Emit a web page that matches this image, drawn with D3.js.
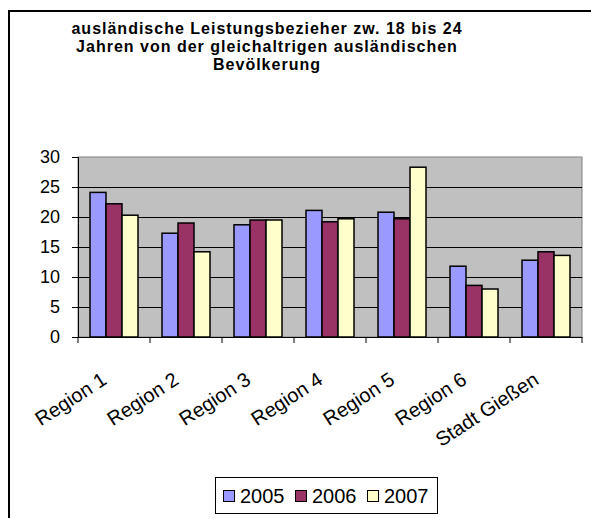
<!DOCTYPE html>
<html lang="de">
<head>
<meta charset="UTF-8">
<title>ausländische Leistungsbezieher</title>
<script src="https://d3js.org/d3.v7.min.js"></script>
<style>
  body { margin: 0; background: #fff; }
  svg text { font-family: "Liberation Sans", Arial, sans-serif; fill: #000; }
</style>
</head>
<body>
<div id="chart"></div>
<script>
// data
const regions = ["Region 1", "Region 2", "Region 3", "Region 4", "Region 5", "Region 6", "Stadt Gießen"];
const years = ["2005", "2006", "2007"];
const v2005 = [24.1, 17.3, 18.7, 21.1, 20.8, 11.8, 12.8];
const v2006 = [22.2, 19.0, 19.5, 19.2, 19.7, 8.6, 14.2];
const v2007 = [20.3, 14.2, 19.5, 19.7, 28.3, 8.0, 13.6];
const yTicks = [0, 5, 10, 15, 20, 25, 30];
const titleLines = ["ausländische Leistungsbezieher zw. 18 bis 24",
                    "Jahren von der gleichaltrigen ausländischen",
                    "Bevölkerung"];
const colors = ["#9999FF", "#993366", "#FFFFCC"];

const series = [v2005, v2006, v2007];
const rows = regions.map((r, i) => ({region: r, values: years.map((y, j) => ({year: y, value: series[j][i], idx: j}))}));

const W = 591, H = 518;
const plot = {left: 78, right: 582, top: 157, bottom: 337};

const svg = d3.select("#chart").append("svg")
  .attr("width", W).attr("height", H);

// outer frame (runs off the right and bottom edges)
svg.append("rect")
  .attr("x", 9).attr("y", 11)
  .attr("width", 600).attr("height", 530)
  .attr("fill", "none").attr("stroke", "#000").attr("stroke-width", 2);

// title
svg.append("text")
  .attr("x", 267).attr("y", 34)
  .attr("text-anchor", "middle")
  .style("font-size", "16px").style("font-weight", "bold")
  .style("letter-spacing", "1px")
  .selectAll("tspan")
  .data(titleLines)
  .enter().append("tspan")
  .attr("x", 267)
  .attr("dy", (d, i) => i === 0 ? 0 : 18)
  .text(d => d);

const x0 = d3.scaleBand().domain(regions).range([plot.left, plot.right]);
const x1 = d3.scaleBand().domain(years).range([0, x0.bandwidth()]).paddingOuter(0.75);
const y = d3.scaleLinear().domain([0, 30]).range([plot.bottom, plot.top]);

// plot area
svg.append("rect")
  .attr("x", plot.left).attr("y", plot.top)
  .attr("width", plot.right - plot.left).attr("height", plot.bottom - plot.top)
  .attr("fill", "#C0C0C0").attr("stroke", "#808080").attr("stroke-width", 1);

// gridlines
svg.append("g")
  .selectAll("line")
  .data(yTicks.filter(d => d > 0 && d < 30))
  .enter().append("line")
  .attr("x1", plot.left).attr("x2", plot.right)
  .attr("y1", d => Math.round(y(d)) + 0.5).attr("y2", d => Math.round(y(d)) + 0.5)
  .attr("stroke", "#000").attr("stroke-width", 1);

// bars
svg.append("g")
  .selectAll("g")
  .data(rows)
  .enter().append("g")
  .attr("transform", d => `translate(${x0(d.region)},0)`)
  .selectAll("rect")
  .data(d => d.values)
  .enter().append("rect")
  .attr("x", d => x1(d.year))
  .attr("y", d => y(d.value))
  .attr("width", x1.bandwidth())
  .attr("height", d => y(0) - y(d.value))
  .attr("fill", d => colors[d.idx])
  .attr("stroke", "#000").attr("stroke-width", 1.5);

// y axis
const yAxis = svg.append("g")
  .attr("transform", `translate(${plot.left},0)`)
  .call(d3.axisLeft(y).tickValues(yTicks).tickSize(6).tickPadding(12));
yAxis.select(".domain").attr("stroke", "#000");
yAxis.selectAll("text").style("font-size", "18px").style("font-family", "Liberation Sans, Arial, sans-serif");

// x axis
const xAxis = svg.append("g")
  .attr("transform", `translate(0,${plot.bottom})`)
  .call(d3.axisBottom(x0).tickSize(0).tickFormat(""));
xAxis.select(".domain").attr("stroke", "#000");
xAxis.selectAll(".tick").remove();
xAxis.selectAll(".sep")
  .data(d3.range(regions.length + 1))
  .enter().append("line")
  .attr("x1", i => plot.left + i * x0.step()).attr("x2", i => plot.left + i * x0.step())
  .attr("y1", 0).attr("y2", 6)
  .attr("stroke", "#000");

// rotated category labels
svg.append("g")
  .selectAll("text")
  .data(regions)
  .enter().append("text")
  .attr("transform", d => `translate(${x0(d) + x0.bandwidth() / 2 - 6},383) rotate(-33)`)
  .attr("text-anchor", "end")
  .style("font-size", "20px")
  .text(d => d);

// legend
const legend = svg.append("g");
legend.append("rect")
  .attr("x", 215.5).attr("y", 477.5)
  .attr("width", 222).attr("height", 36)
  .attr("fill", "#fff").attr("stroke", "#000").attr("stroke-width", 1);
const lx = d3.scalePoint().domain(years).range([223, 367]);
const item = legend.selectAll(".item")
  .data(years)
  .enter().append("g")
  .attr("transform", d => `translate(${lx(d)},0)`);
item.append("rect")
  .attr("x", 0.5).attr("y", 490.5)
  .attr("width", 11).attr("height", 11)
  .attr("fill", (d, i) => colors[i]).attr("stroke", "#000");
item.append("text")
  .attr("x", 17).attr("y", 503)
  .style("font-size", "20px")
  .text(d => d);
</script>
</body>
</html>
